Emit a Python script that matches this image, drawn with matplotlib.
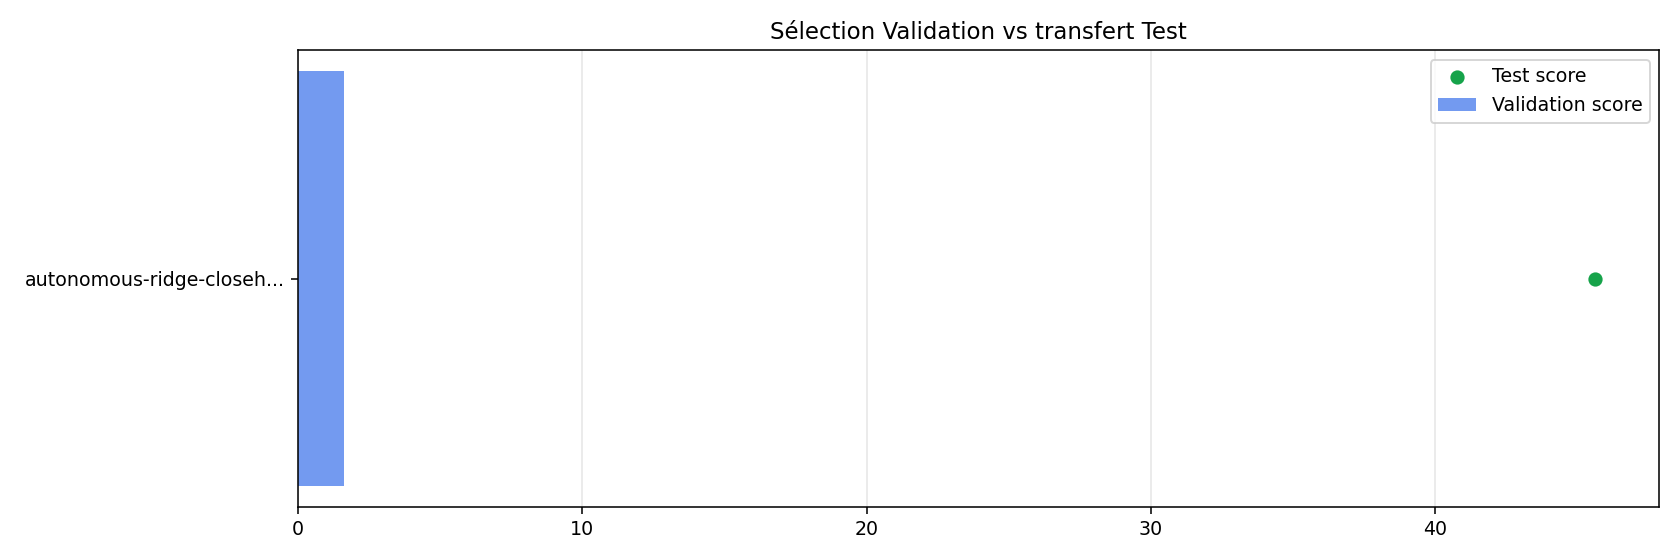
import matplotlib
matplotlib.use("Agg")
import matplotlib.pyplot as plt

plt.rcParams["font.size"] = 9.8

# données
modeles = ["autonomous-ridge-closeh..."]
val_scores = [1.63]
test_scores = [45.6]

fig, ax = plt.subplots(figsize=(12, 4), dpi=140)
ax.barh(modeles, val_scores, color="#739af0", label="Validation score")
ax.scatter(test_scores, modeles, color="#16a34a", s=40, zorder=3, label="Test score")
ax.set_title("Sélection Validation vs transfert Test")
ax.grid(axis="x", color="#e6e6e6")
ax.set_axisbelow(True)
ax.legend(loc="upper right")
fig.tight_layout()
fig.subplots_adjust(left=0.1774)
fig.savefig("out.png")
